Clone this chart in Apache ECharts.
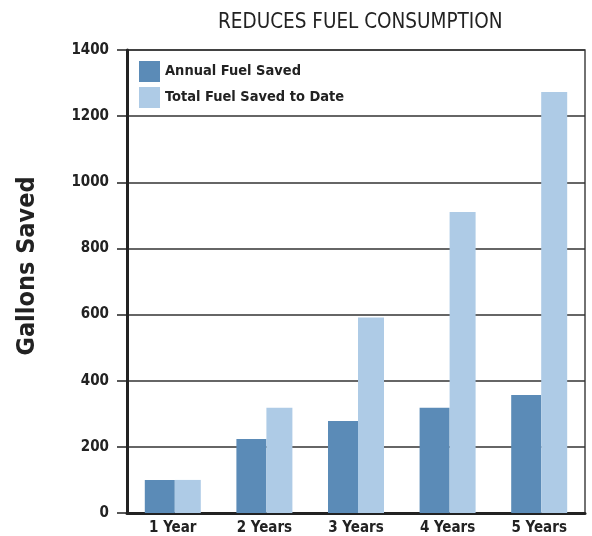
<!DOCTYPE html>
<html>
<head>
<meta charset="utf-8">
<script src="https://cdn.jsdelivr.net/npm/echarts@6/dist/echarts.min.js"></script>
<style>
  html, body { margin: 0; padding: 0; background: #fff; }
  #main { width: 592px; height: 536px; }
</style>
</head>
<body>
<div id="main"></div>
<script>
// data
var categories = ['1 Year', '2 Years', '3 Years', '4 Years', '5 Years'];
var annualSaved = [100, 224, 278, 318, 357];
var totalSaved = [100, 318, 591, 910, 1273];
var seriesNames = ['Annual Fuel Saved', 'Total Fuel Saved to Date'];

var FONT = "'Liberation Sans Narrow', 'DejaVu Sans Condensed', sans-serif";

var chart = echarts.init(document.getElementById('main'));

var option = {
    animation: false,
    backgroundColor: '#fff',
    title: {
        text: 'REDUCES FUEL CONSUMPTION',
        left: 213,
        top: 7,
        textStyle: { fontFamily: FONT, fontSize: 20.5, fontWeight: 'normal', color: '#222' }
    },
    legend: {
        orient: 'vertical',
        left: 139,
        top: 61,
        padding: 0,
        icon: 'rect',
        itemWidth: 21,
        itemHeight: 21,
        itemGap: 5,
        textStyle: { fontFamily: FONT, fontSize: 14.5, fontWeight: 'bold', color: '#222' },
        data: seriesNames
    },
    graphic: [{
        type: 'text',
        x: 27,
        y: 266,
        rotation: Math.PI / 2,
        style: {
            text: 'Gallons Saved',
            fontFamily: FONT,
            fontSize: 25,
            fontWeight: 'bold',
            fill: '#222',
            align: 'center',
            verticalAlign: 'middle'
        }
    }],
    grid: {
        left: 127,
        right: 7,
        top: 50,
        bottom: 23,
        show: true,
        borderColor: '#444',
        borderWidth: 1.5
    },
    xAxis: {
        type: 'category',
        data: categories,
        axisLine: { lineStyle: { color: '#222', width: 3 } },
        axisTick: { inside: true, length: 5, lineStyle: { color: '#222', width: 1.5 } },
        axisLabel: { fontFamily: FONT, fontSize: 15, fontWeight: 'bold', color: '#222', margin: 8 }
    },
    yAxis: {
        type: 'value',
        min: 0,
        max: 1400,
        interval: 200,
        axisLine: { show: true, lineStyle: { color: '#222', width: 3 } },
        axisTick: { show: true, length: 10, lineStyle: { color: '#222', width: 1.5 } },
        axisLabel: {
            fontFamily: FONT, fontSize: 15, fontWeight: 'bold', color: '#222', margin: 18,
            formatter: function (v) { return String(v); }
        },
        splitLine: { lineStyle: { color: '#333', width: 1.5 } }
    },
    series: [
        {
            name: seriesNames[0],
            type: 'bar',
            barWidth: 30,
            barGap: '0%',
            itemStyle: { color: '#5b8bb7' },
            data: annualSaved
        },
        {
            name: seriesNames[1],
            type: 'bar',
            barWidth: 26,
            barGap: '0%',
            itemStyle: { color: '#aecbe6' },
            data: totalSaved
        }
    ]
};

chart.setOption(option);
</script>
</body>
</html>
